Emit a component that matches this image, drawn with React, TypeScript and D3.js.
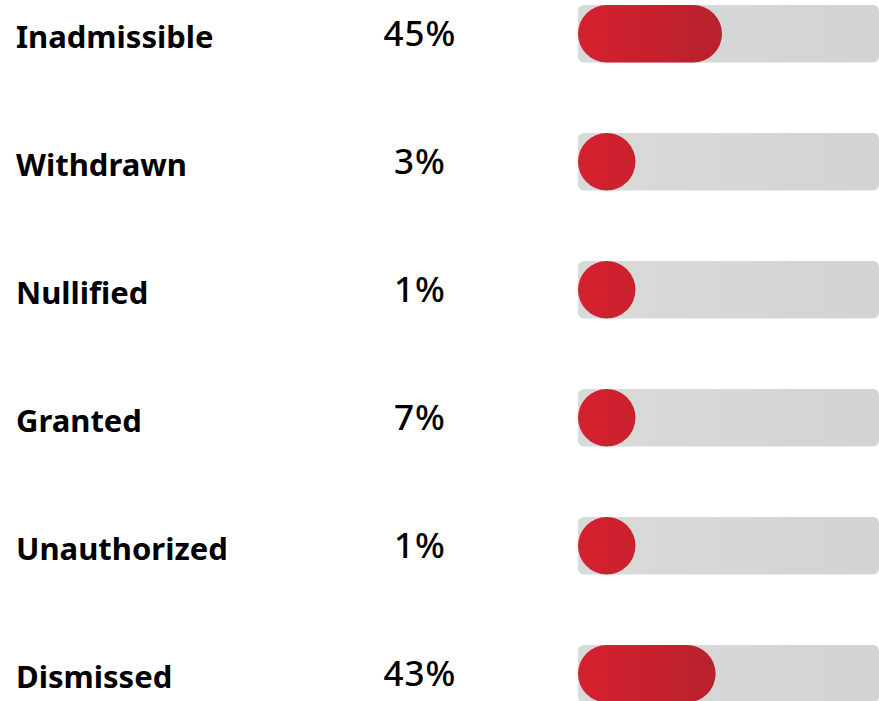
import React from "react";
import * as d3 from "d3";

const categories = ["Inadmissible", "Withdrawn", "Nullified", "Granted", "Unauthorized", "Dismissed"];
const values = [45, 3, 1, 7, 1, 43];
const valueLabels = ["45%", "3%", "1%", "7%", "1%", "43%"];

const W = 879;
const H = 701;

export default function App() {
  const barH = 57.5;
  const y = d3
    .scaleBand<string>()
    .domain(categories)
    .range([5, 5 + 128 * 6])
    .paddingInner(0)
    .paddingOuter(0);
  const trackX0 = 578;
  const trackX1 = 879;
  const x = d3.scaleLinear().domain([0, 100]).range([0, 320]);

  return (
    <svg
      width={W}
      height={H}
      style={{ position: "absolute", left: 0, top: 0, display: "block" }}
    >
      <defs>
        <linearGradient id="redGrad" gradientUnits="userSpaceOnUse" x1={trackX0} x2={trackX0 + 145} y1={0} y2={0}>
          <stop offset="0%" stopColor="#d6202e" />
          <stop offset="100%" stopColor="#b7212d" />
        </linearGradient>
        <linearGradient id="trackGrad" x1="0" x2="1" y1="0" y2="0">
          <stop offset="0%" stopColor="#d9dada" />
          <stop offset="100%" stopColor="#d3d3d3" />
        </linearGradient>
      </defs>
      <rect x={0} y={0} width={W} height={H} fill="#ffffff" />
      {categories.map((c, i) => {
        const top = y(c) as number;
        const cy = top + barH / 2;
        const fw = Math.max(barH, x(values[i]));
        return (
          <g key={c}>
            <text
              x={16}
              y={cy + 14}
              fontFamily="'Noto Sans', 'Open Sans', sans-serif"
              fontWeight={700}
              fontSize={31}
              fill="#000000"
            >
              {c}
            </text>
            <text
              x={420}
              y={cy + 12.5}
              textAnchor="middle"
              fontFamily="'Noto Sans', 'Open Sans', sans-serif"
              fontWeight={500}
              fontSize={35}
              letterSpacing={1}
              fill="#000000"
            >
              {valueLabels[i]}
            </text>
            <rect
              x={trackX0}
              y={top}
              width={trackX1 - trackX0}
              height={barH}
              rx={6}
              ry={6}
              fill="url(#trackGrad)"
            />
            <rect
              x={trackX0}
              y={top}
              width={fw}
              height={barH}
              rx={barH / 2}
              ry={barH / 2}
              fill="url(#redGrad)"
            />
          </g>
        );
      })}
    </svg>
  );
}
